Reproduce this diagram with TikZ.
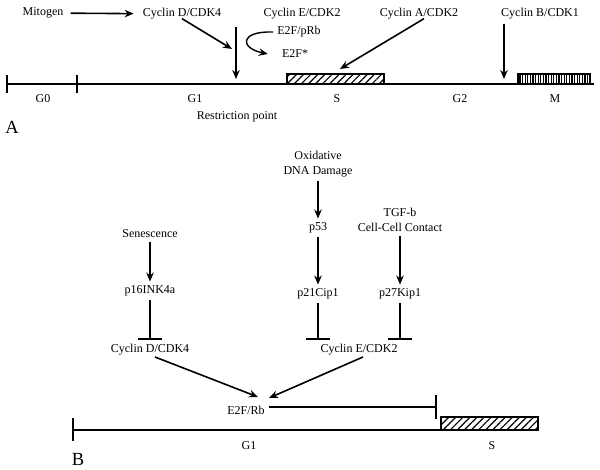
\documentclass[tikz,border=0pt]{standalone}
\usepackage{fontspec}
\setmainfont{Liberation Serif}
\usetikzlibrary{arrows.meta,patterns.meta}
\tikzset{
  lbl/.style={font=\fontsize{12}{15.5}\selectfont, align=center, inner sep=4pt},
  tag/.style={font=\fontsize{18.5}{20}\selectfont, inner sep=0pt},
  arr/.style={-{Stealth[length=9pt,width=7.5pt]}, line width=1.6pt},
  blk/.style={-{Bar[width=24pt,line width=2pt]}, line width=1.6pt},
  axis/.style={line width=1.6pt},
  hatch/.style={line width=1.3pt, pattern={Lines[angle=45,distance=5pt,line width=1.2pt]}},
  stripe/.style={line width=1.3pt, pattern={Lines[angle=90,distance=2.6pt,line width=1.1pt]}},
}
\begin{document}
\begin{tikzpicture}[x=1pt, y=-1pt]
    \useasboundingbox (0,0) rectangle (600,470);
    % panel A
    \node[lbl] (mit) at (43,13) {Mitogen};
    \node[lbl] (cycd) at (182,14) {Cyclin D/CDK4};
    \node[lbl] (cyce) at (302,14) {Cyclin E/CDK2};
    \node[lbl] (e2fprb) at (299,32) {E2F/pRb};
    \node[lbl] (e2fs) at (295,54) {E2F*};
    \node[lbl] (cyca) at (419,14) {Cyclin A/CDK2};
    \node[lbl] (cycb) at (540,14) {Cyclin B/CDK1};
    \coordinate (rtop) at (236,27);
    \coordinate (rp) at (236,79);
    \coordinate (rin) at (232,49);
    \coordinate (sin) at (340,69);
    \coordinate (gm) at (504,79);
    \draw[axis] (7,84) -- (594,84);
    \foreach \x in {7,77}
        \draw[axis] (\x,75) -- (\x,93);
    \draw[hatch] (287,74) rectangle (384,84);
    \draw[stripe] (518,74) rectangle (590,84);
    \foreach \t/\x in {G0/43, G1/195, S/337, G2/460, M/555}
        \node[lbl] (ph\t) at (\x,99) {\t};
    \node[lbl] (rest) at (237,117) {Restriction point};
    \node[tag] (tagA) at (12,127) {A};
    \draw[arr, shorten <=3pt, shorten >=5pt] (mit) -- (cycd);
    \draw[arr] ([yshift=5pt]cycd.south) -- (rin);
    \draw[arr] (rtop) -- (rp);
    \draw[arr, line width=1.4pt] (e2fprb.west) .. controls +(-34,-1) and +(-28,-6) .. ([xshift=-10pt]e2fs.west);
    \draw[arr] ([xshift=5pt,yshift=5pt]cyca.south) -- (sin);
    \draw[arr] (cycb.south west -| gm) -- (gm);
    % panel B
    \node[lbl] (oxi) at (318,164) {Oxidative\\DNA Damage};
    \node[lbl] (p53) at (318,228) {p53};
    \node[lbl] (p21) at (318,294) {p21Cip1};
    \node[lbl] (tgf) at (400,220) {TGF-b\\Cell-Cell Contact};
    \node[lbl] (p27) at (400,294) {p27Kip1};
    \node[lbl] (sen) at (150,234) {Senescence};
    \node[lbl] (p16) at (150,291) {p16INK4a};
    \node[lbl] (cdb) at (150,350) {Cyclin D/CDK4};
    \node[lbl] (ceb) at (359,350) {Cyclin E/CDK2};
    \node[lbl] (e2frb) at (246,410) {E2F/Rb};
    \coordinate (gs) at (437,407);
    \draw[arr] (oxi) -- (p53);
    \draw[arr] (p53) -- (p21);
    \draw[arr] (tgf) -- (p27);
    \draw[arr] (sen) -- (p16);
    \draw[blk] (p21) -- (p21 |- ceb.north);
    \draw[blk] (p27) -- (p27 |- ceb.north);
    \draw[blk] (p16) -- (p16 |- cdb.north);
    \draw[arr] ([xshift=5pt,yshift=-7pt]cdb.center) -- ([xshift=12pt,yshift=13pt]e2frb.center);
    \draw[arr] ([xshift=4pt,yshift=-7pt]ceb.center) -- ([xshift=23pt,yshift=12pt]e2frb.center);
    \draw[blk] (e2frb.east |- gs) -- (gs);
    \draw[axis] (73,430) -- (441,430);
    \draw[axis] (73,418) -- (73,441);
    \draw[hatch] (441,417) rectangle (538,430);
    \node[lbl] (g1b) at (249,446) {G1};
    \node[lbl] (sb) at (492,446) {S};
    \node[tag] (tagB) at (78,459) {B};
\end{tikzpicture}
\end{document}
